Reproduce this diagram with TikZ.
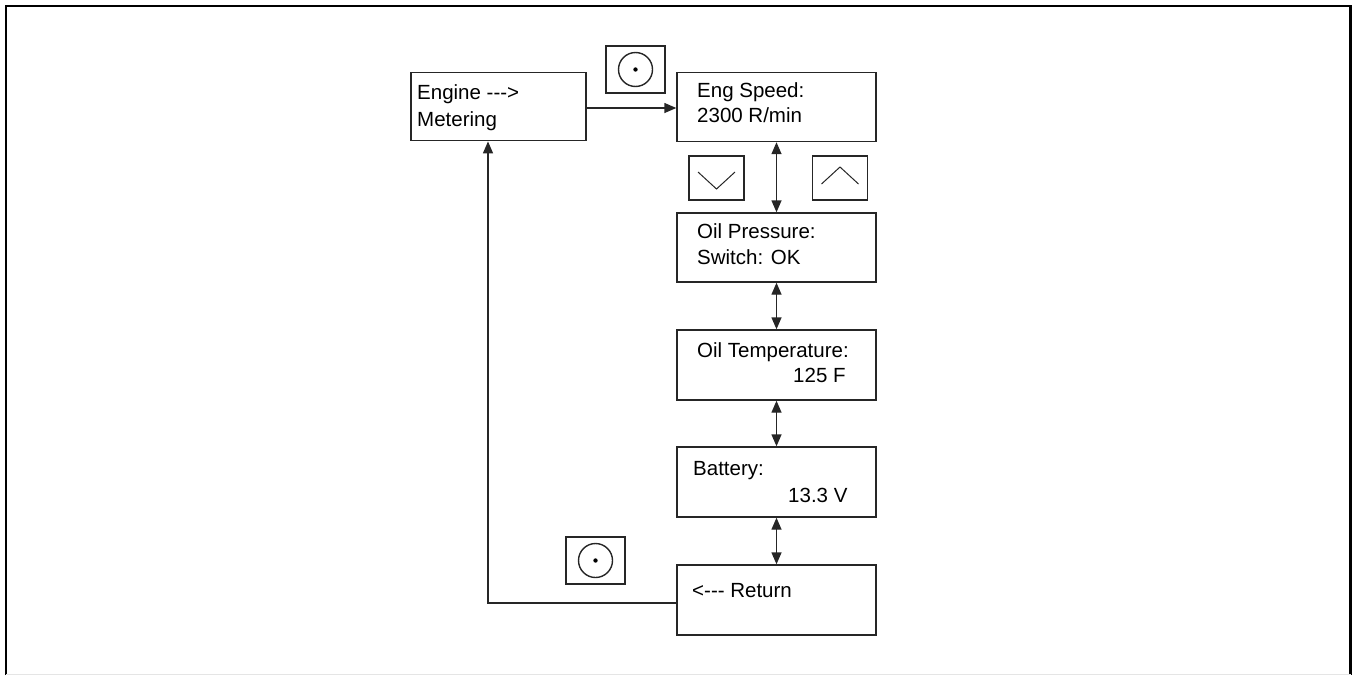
\documentclass[tikz,border=0pt]{standalone}
\usepackage{fontspec}
\setmainfont{Liberation Sans}
\usetikzlibrary{arrows.meta}
\begin{document}
\begin{tikzpicture}[x=1pt,y=-1pt,
  ln/.style={draw=black!85,line width=1.4pt},
  scr/.style={ln,rectangle,minimum width=199pt,minimum height=69pt,inner sep=0pt},
  btn/.style={ln,rectangle,minimum width=59pt,minimum height=47pt,inner sep=0pt},
  sbtn/.style={ln,rectangle,minimum width=55pt,minimum height=44pt,inner sep=0pt},
  txt/.style={anchor=base west,inner sep=0pt,font=\fontsize{20.5}{24}\selectfont},
  arr/.style={ln,-{Triangle[length=12pt,width=10pt]}},
  darr/.style={ln,{Triangle[length=12pt,width=10pt]}-{Triangle[length=12pt,width=10pt]}}]
\useasboundingbox (0,0) rectangle (1352,675);
% frame
\draw[line width=2.5pt] (6,675) -- (6,6) -- (1350.5,6) -- (1350.5,675);
\draw[black!10,line width=1pt] (6,674.5) -- (1350.5,674.5);
% boxes
\node[ln,rectangle,minimum width=175pt,minimum height=68pt,inner sep=0pt] (eng) at (498.3,106.7) {};
\node[scr] (spd) at (776.5,107) {};
\node[scr] (oilp) at (776.5,247.5) {};
\node[scr,minimum height=70pt] (oilt) at (776.5,365) {};
\node[scr,minimum height=70pt] (bat) at (776.5,482) {};
\node[scr,minimum height=70pt] (ret) at (776.5,600) {};
% texts
\node[txt] (t1) at (417,99) {Engine -{}-{}->};
\node[txt] (t2) at (417,126) {Metering};
\node[txt] (t3) at (697,97) {Eng Speed:};
\node[txt] (t4) at (697,122.5) {2300 R/min};
\node[txt] (t5) at (697,238) {Oil Pressure:};
\node[txt] (t6) at (697,264) {Switch: OK};
\node[txt] (t7) at (697,357) {Oil Temperature:};
\node[txt] (t8) at (793,382) {125 F};
\node[txt] (t9) at (693,475) {Battery:};
\node[txt] (t10) at (788,502) {13.3 V};
\node[txt] (t11) at (692,597) {<-{}-{}- Return};
% buttons
\node[btn] (b1) at (635.5,69.5) {};
\draw[ln] (b1.center) circle (17pt);
\fill[black] (b1.center) circle (2.2pt);
\node[btn] (b2) at (595.5,560.5) {};
\draw[ln] (b2.center) circle (17pt);
\fill[black] (b2.center) circle (2.2pt);
\node[sbtn] (bd) at (716.5,178) {};
\draw[draw=black!85,line width=1pt] ([shift={(-18.5pt,6pt)}]bd.center) -- ([shift={(0pt,-11pt)}]bd.center) -- ([shift={(18.5pt,6pt)}]bd.center);
\node[sbtn] (bu) at (840,178) {};
\draw[draw=black!85,line width=1pt] ([shift={(-18.5pt,-6pt)}]bu.center) -- ([shift={(0pt,11pt)}]bu.center) -- ([shift={(18.5pt,-6pt)}]bu.center);
% connectors
\draw[arr] ([yshift=-1.3pt]eng.east) -- ([yshift=-1pt]spd.west);
\draw[darr] (spd.south) -- (oilp.north);
\draw[darr] (oilp.south) -- (oilt.north);
\draw[darr] (oilt.south) -- (bat.north);
\draw[darr] (bat.south) -- (ret.north);
\draw[arr] ([yshift=-3pt]ret.west) -| ([xshift=-10.3pt]eng.south);
\end{tikzpicture}
\end{document}
